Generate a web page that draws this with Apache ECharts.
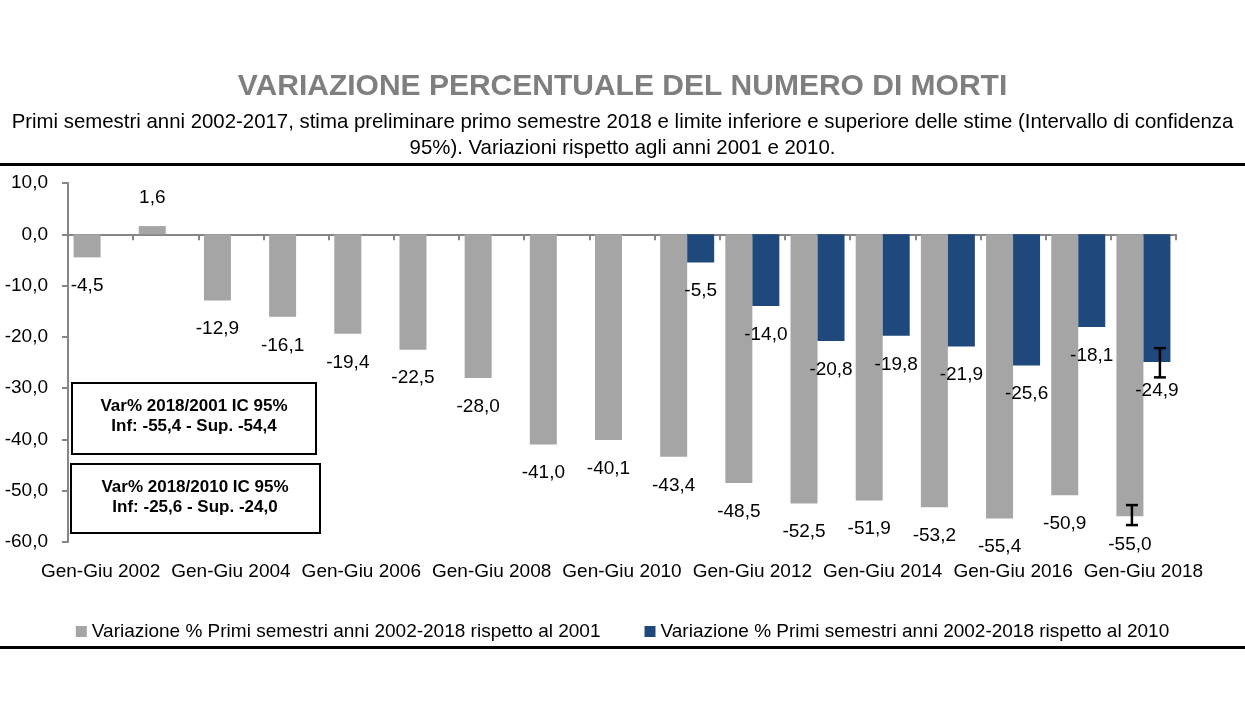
<!DOCTYPE html>
<html>
<head>
<meta charset="utf-8">
<script src="https://cdn.jsdelivr.net/npm/echarts@6/dist/echarts.min.js"></script>
<style>
html,body{margin:0;padding:0;background:#fff;}
#chart{width:1245px;height:710px;}
</style>
</head>
<body>
<div id="chart"></div>
<script>
const titleText = 'VARIAZIONE PERCENTUALE DEL NUMERO DI MORTI';
const subtitleLines = [
  'Primi semestri anni 2002-2017, stima preliminare primo semestre 2018 e limite inferiore e superiore delle stime (Intervallo di confidenza',
  '95%). Variazioni rispetto agli anni 2001 e 2010.'
];
const categories = ['Gen-Giu 2002','Gen-Giu 2003','Gen-Giu 2004','Gen-Giu 2005','Gen-Giu 2006','Gen-Giu 2007','Gen-Giu 2008','Gen-Giu 2009','Gen-Giu 2010','Gen-Giu 2011','Gen-Giu 2012','Gen-Giu 2013','Gen-Giu 2014','Gen-Giu 2015','Gen-Giu 2016','Gen-Giu 2017','Gen-Giu 2018'];
const seriesNames = ['Variazione % Primi semestri anni 2002-2018 rispetto al 2001','Variazione % Primi semestri anni 2002-2018 rispetto al 2010'];
const vs2001 = [-4.5, 1.6, -12.9, -16.1, -19.4, -22.5, -28.0, -41.0, -40.1, -43.4, -48.5, -52.5, -51.9, -53.2, -55.4, -50.9, -55.0];
const vs2010 = [null, null, null, null, null, null, null, null, null, -5.5, -14.0, -20.8, -19.8, -21.9, -25.6, -18.1, -24.9];
// error bars drawn on the 2018 estimate: [category, upper, lower]
const err2001 = [['Gen-Giu 2018', -52.8, -56.7]];
const err2010 = [['Gen-Giu 2018', -22.2, -27.9]];
const yTicks = {min: -60, max: 10, interval: 10};
const box1Lines = ['Var% 2018/2001 IC 95%', 'Inf: -55,4 - Sup. -54,4'];
const box2Lines = ['Var% 2018/2010 IC 95%', 'Inf: -25,6 - Sup. -24,0'];

const FONT = '"Liberation Sans", Arial, sans-serif';
const GRAY = '#a5a5a5';
const BLUE = '#1f497d';
const AXIS = '#868686';
const BAR_W = 27;
const fmt = v => (v == null ? '' : Number(v).toFixed(1).replace('.', ','));

function errRender(offset) {
  return function (params, api) {
    const c = api.value(0);
    const top = api.coord([c, api.value(1)]);
    const bot = api.coord([c, api.value(2)]);
    const x = top[0] + offset;
    const hw = 6;
    const st = {stroke: '#000', lineWidth: 2.5};
    return {type: 'group', children: [
      {type: 'line', shape: {x1: x, y1: top[1], x2: x, y2: bot[1]}, style: st},
      {type: 'line', shape: {x1: x - hw, y1: top[1], x2: x + hw, y2: top[1]}, style: st},
      {type: 'line', shape: {x1: x - hw, y1: bot[1], x2: x + hw, y2: bot[1]}, style: st}
    ]};
  };
}

const chart = echarts.init(document.getElementById('chart'), null, {renderer: 'canvas'});
const labelCfg = {
  show: true, position: 'outside', distance: 19,
  color: '#000', fontSize: 19, fontFamily: FONT,
  formatter: p => fmt(p.value)
};
chart.setOption({
  animation: false,
  backgroundColor: '#fff',
  textStyle: {fontFamily: FONT},
  title: [
    {text: titleText, left: 'center', top: 67,
     textStyle: {fontSize: 30, fontWeight: 'bold', color: '#7f7f7f', fontFamily: FONT}},
    {text: subtitleLines.join('\n'), left: 'center', top: 104,
     textStyle: {fontSize: 20.4, fontWeight: 'normal', color: '#000', lineHeight: 26, fontFamily: FONT, align: 'center'}}
  ],
  legend: {
    left: 'center', top: 617, itemGap: 44, itemWidth: 11, itemHeight: 11, icon: 'rect',
    textStyle: {fontSize: 19, color: '#000', fontFamily: FONT},
    data: seriesNames
  },
  grid: {left: 68, right: 69, top: 183, bottom: 168, containLabel: false, outerBoundsMode: 'none'},
  xAxis: [
    {type: 'category', data: categories, position: 'bottom',
     axisLine: {show: false, onZero: false}, axisTick: {show: false},
     axisLabel: {interval: 1, margin: 20, fontSize: 19, color: '#000', fontFamily: FONT}},
    {type: 'category', data: categories, position: 'bottom',
     axisLine: {show: true, onZero: true, lineStyle: {color: AXIS, width: 2}},
     axisTick: {show: true, interval: 0, inside: false, length: 6, lineStyle: {color: AXIS, width: 2}},
     axisLabel: {show: false}}
  ],
  yAxis: {
    type: 'value', min: yTicks.min, max: yTicks.max, interval: yTicks.interval,
    axisLine: {show: true, lineStyle: {color: AXIS, width: 2}},
    axisTick: {show: true, length: 6, lineStyle: {color: AXIS, width: 2}},
    splitLine: {show: false},
    axisLabel: {margin: 20, fontSize: 19, color: '#000', fontFamily: FONT, formatter: v => fmt(v)}
  },
  series: [
    {name: seriesNames[0], type: 'bar', data: vs2001, barWidth: BAR_W, barGap: '0%',
     itemStyle: {color: GRAY}, label: labelCfg, xAxisIndex: 0},
    {name: seriesNames[1], type: 'bar', data: vs2010, barWidth: BAR_W, barGap: '0%',
     itemStyle: {color: BLUE}, label: labelCfg, xAxisIndex: 0},
    {type: 'custom', data: err2001, renderItem: errRender(-BAR_W / 2 + 2), xAxisIndex: 0, z: 5, silent: true},
    {type: 'custom', data: err2010, renderItem: errRender(BAR_W / 2 + 3), xAxisIndex: 0, z: 5, silent: true}
  ],
  graphic: [
    {type: 'rect', shape: {x: 0, y: 163, width: 1245, height: 3}, style: {fill: '#000'}},
    {type: 'rect', shape: {x: 0, y: 646, width: 1245, height: 3}, style: {fill: '#000'}},
    {type: 'rect', shape: {x: 72, y: 383, width: 244, height: 71}, style: {fill: '#fff', stroke: '#000', lineWidth: 2}, z: 10},
    {type: 'text', x: 194, y: 416, z: 11,
     style: {text: box1Lines.join('\n'), fontSize: 17, fontWeight: 'bold', fontFamily: FONT, fill: '#000', align: 'center', verticalAlign: 'middle', lineHeight: 20}},
    {type: 'rect', shape: {x: 71, y: 464, width: 249, height: 69}, style: {fill: '#fff', stroke: '#000', lineWidth: 2}, z: 10},
    {type: 'text', x: 195, y: 497, z: 11,
     style: {text: box2Lines.join('\n'), fontSize: 17, fontWeight: 'bold', fontFamily: FONT, fill: '#000', align: 'center', verticalAlign: 'middle', lineHeight: 20}}
  ]
});
</script>
</body>
</html>
